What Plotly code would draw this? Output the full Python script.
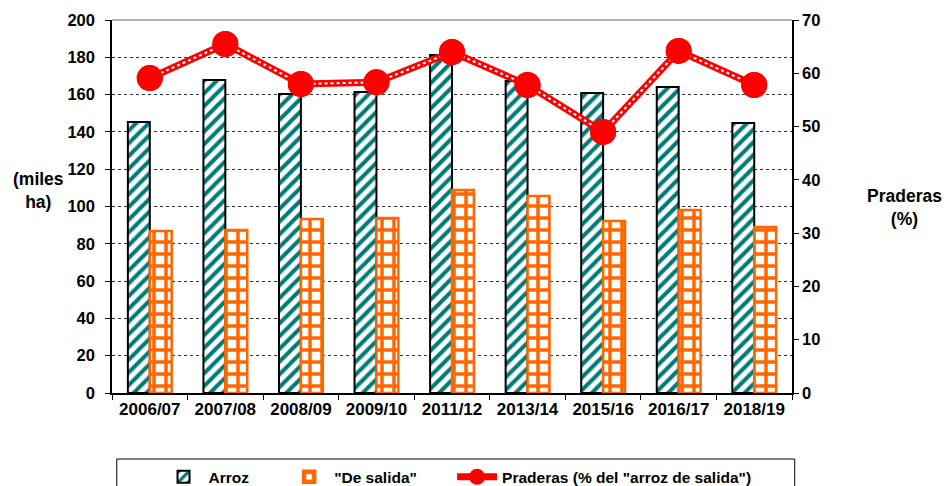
import plotly.graph_objects as go

categories = ["2006/07", "2007/08", "2008/09", "2009/10", "2011/12", "2013/14", "2015/16", "2016/17", "2018/19"]
arroz = [145.3, 167.8, 160.3, 161.4, 181.2, 167.3, 160.8, 164.1, 144.8]
de_salida = [86.9, 87.4, 93.3, 93.8, 108.8, 105.6, 92.2, 98.1, 89.0]
praderas = [59.1, 65.5, 58.0, 58.3, 64.0, 57.8, 49.0, 64.2, 57.8]
series_names = ["Arroz", '"De salida"', 'Praderas (% del "arroz de salida")']

FONT = "Liberation Sans, Arial, sans-serif"
RED = "#FF0000"
TEAL = "#007C78"
ORANGE = "#FF6600"
PAD = "\u00a0" * 7

fig = go.Figure()
fig.add_trace(go.Bar(
    x=categories, y=arroz, name=series_names[0] + PAD,
    marker=dict(color="white", line=dict(color="black", width=2),
                pattern=dict(shape="/", fgcolor=TEAL, bgcolor="white", fgopacity=1,
                             size=9, solidity=0.45)),
))
fig.add_trace(go.Bar(
    x=categories, y=de_salida, name=series_names[1] + PAD,
    marker=dict(color="white", line=dict(color=ORANGE, width=2.5),
                pattern=dict(shape="+", fgcolor=ORANGE, bgcolor="white", fgopacity=1,
                             size=12, solidity=0.5)),
))
fig.add_trace(go.Scatter(
    x=categories, y=praderas, name=series_names[2], yaxis="y2",
    mode="lines+markers", line=dict(color=RED, width=7),
    marker=dict(color=RED, size=26),
))
fig.add_trace(go.Scatter(
    x=categories, y=praderas, yaxis="y2", showlegend=False, hoverinfo="skip",
    mode="lines", line=dict(color="white", width=2, dash="dot"),
))
fig.add_trace(go.Scatter(
    x=categories, y=praderas, yaxis="y2", showlegend=False, hoverinfo="skip",
    mode="markers", marker=dict(color=RED, size=26),
))

xtickfont = dict(family=FONT, size=17, color="black", weight="bold")
ytickfont = dict(family=FONT, size=16.5, color="black", weight="bold")
titlefont = dict(family=FONT, size=17.5, color="black", weight="bold")
legendfont = dict(family=FONT, size=15.5, color="black", weight="bold")
fig.update_layout(
    width=947, height=486,
    margin=dict(l=112, r=155, t=20, b=93, autoexpand=False),
    paper_bgcolor="white", plot_bgcolor="white",
    font=dict(family=FONT, size=13, color="black", weight="bold"),
    barmode="group", bargap=0.42, bargroupgap=0,
    showlegend=True,
    legend=dict(orientation="h", xref="container", yref="container",
                x=0.1674, xanchor="left", y=0.018, yanchor="middle",
                font=legendfont, bgcolor="rgba(0,0,0,0)", borderwidth=0, traceorder="normal",
                itemwidth=40),
    xaxis=dict(range=[-0.5, len(categories) - 0.5], showgrid=False, showline=True,
               linecolor="black", linewidth=1.5,
               ticks="outside", tickson="boundaries", ticklen=5, tickcolor="black",
               tickfont=xtickfont),
    yaxis=dict(range=[0, 200], dtick=20, showgrid=True, gridcolor="#333333", griddash="dot",
               gridwidth=1, showline=True, linecolor="black", linewidth=1.5,
               ticks="outside", ticklen=5, tickcolor="black", tickfont=ytickfont,
               ticklabelstandoff=7, zeroline=False),
    yaxis2=dict(range=[0, 70], dtick=10, overlaying="y", side="right", showgrid=False,
                showline=True, linecolor="black", linewidth=1.5,
                ticks="outside", ticklen=5, tickcolor="black", tickfont=ytickfont,
                zeroline=False),
    shapes=[
        dict(type="line", xref="paper", yref="paper", x0=0, x1=1, y0=1, y1=1,
             line=dict(color="#999999", width=1.5)),
        dict(type="rect", xref="paper", yref="paper", x0=0.007, x1=1.004, y0=-0.177, y1=-0.30,
             line=dict(color="black", width=1)),
    ],
    annotations=[
        dict(text="(miles<br>ha)", xref="paper", yref="paper", x=-0.1074, y=0.5416,
             xanchor="center", yanchor="middle", align="center", showarrow=False,
             font=titlefont),
        dict(text="Praderas<br>(%)", xref="paper", yref="paper", x=1.166, y=0.496,
             xanchor="center", yanchor="middle", align="center", showarrow=False,
             font=titlefont),
    ],
)

fig.write_html("out.html", config={"displayModeBar": False},
               post_script="document.body.style.margin='0px';")
